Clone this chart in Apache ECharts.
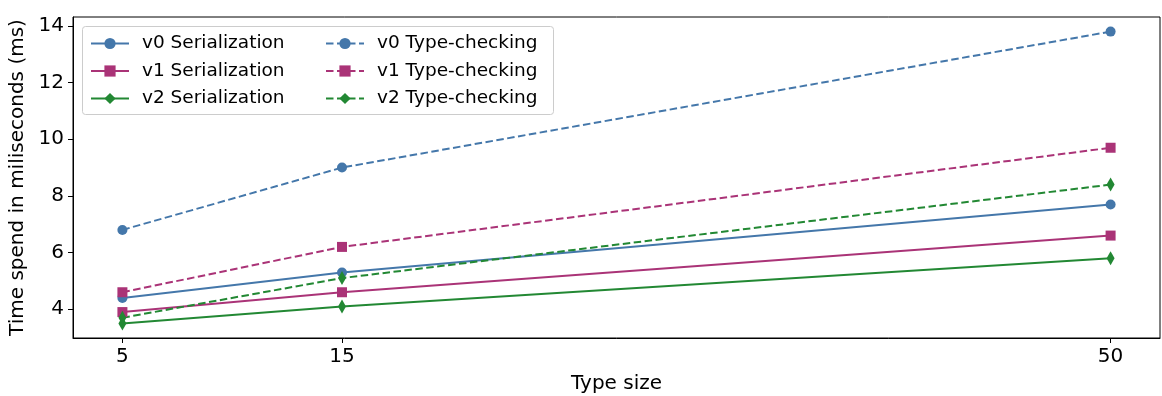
<!DOCTYPE html>
<html>
<head>
<meta charset="utf-8">
<script src="https://cdn.jsdelivr.net/npm/echarts@6/dist/echarts.min.js"></script>
<style>html,body{margin:0;padding:0;background:#fff}#c{width:1162px;height:396px}</style>
</head>
<body>
<div id="c"></div>
<script>
const typeSizes = [5, 15, 50];
const xTicks = [5, 15, 50];
const yTicks = [4, 6, 8, 10, 12, 14];
const v0Serialization = [4.4, 5.3, 7.7];
const v1Serialization = [3.9, 4.6, 6.6];
const v2Serialization = [3.5, 4.1, 5.8];
const v0TypeChecking = [6.8, 9.0, 13.8];
const v1TypeChecking = [4.6, 6.2, 9.7];
const v2TypeChecking = [3.7, 5.1, 8.4];

const BLUE = '#4477aa', MAG = '#aa3377', GREEN = '#228833';
const FONT = 'DejaVu Sans';

function pairs(vals) { return typeSizes.map((x, i) => [x, vals[i]]); }
function mk(name, vals, color, symbol, size, dashed) {
  return {
    name: name, type: 'line', data: pairs(vals),
    symbol: symbol, symbolSize: size, showSymbol: true,
    itemStyle: { color: color },
    lineStyle: { color: color, width: 2, type: dashed ? [7.5, 3.5] : 'solid' },
    emphasis: { disabled: true }, animation: false, z: 3
  };
}
const series = [
  mk('v0 Serialization', v0Serialization, BLUE, 'circle', 10, false),
  mk('v1 Serialization', v1Serialization, MAG, 'rect', 10, false),
  mk('v2 Serialization', v2Serialization, GREEN, 'diamond', [8, 14], false),
  mk('v0 Type-checking', v0TypeChecking, BLUE, 'circle', 10, true),
  mk('v1 Type-checking', v1TypeChecking, MAG, 'rect', 10, true),
  mk('v2 Type-checking', v2TypeChecking, GREEN, 'diamond', [8, 14], true)
];

const legendCommon = {
  orient: 'vertical', itemWidth: 38, itemHeight: 14, itemGap: 8.5, z: 20,
  textStyle: { fontFamily: FONT, fontSize: 18.5, color: '#000', padding: [0, 0, 0, 8] },
  selectedMode: false, padding: 0
};

const chart = echarts.init(document.getElementById('c'), null, { renderer: 'canvas' });
chart.setOption({
  animation: false,
  backgroundColor: '#fff',
  grid: { left: 73, right: 2, top: 17, bottom: 58, containLabel: false, outerBoundsMode: 'none',
          show: true, borderColor: '#000', borderWidth: 1, backgroundColor: 'transparent' },
  legend: [
    Object.assign({ left: 90, top: 34, data: series.slice(0, 3).map(s => s.name) }, legendCommon),
    Object.assign({ left: 325, top: 34, data: series.slice(3).map(s => s.name) }, legendCommon)
  ],
  graphic: [{
    type: 'rect', left: 82, top: 26, z: 5, silent: true,
    shape: { width: 471, height: 88, r: 3 },
    style: { fill: 'rgba(255,255,255,0.8)', stroke: '#cccccc', lineWidth: 1 }
  }],
  xAxis: {
    type: 'value', min: 2.75, max: 52.25,
    name: 'Type size', nameLocation: 'middle', nameGap: 36,
    nameTextStyle: { fontFamily: FONT, fontSize: 20, color: '#000' },
    axisLine: { show: true, lineStyle: { color: '#000', width: 1 } },
    axisTick: { show: true, length: 5, lineStyle: { color: '#000' }, customValues: xTicks },
    axisLabel: { fontFamily: FONT, fontSize: 20, color: '#000', margin: 9, customValues: xTicks },
    splitLine: { show: false }
  },
  yAxis: {
    type: 'value', min: 2.985, max: 14.315,
    name: 'Time spend in miliseconds (ms)', nameLocation: 'middle', nameGap: 45,
    nameTextStyle: { fontFamily: FONT, fontSize: 20, color: '#000' },
    axisLine: { show: true, lineStyle: { color: '#000', width: 1 } },
    axisTick: { show: true, length: 5, lineStyle: { color: '#000' }, customValues: yTicks },
    axisLabel: { fontFamily: FONT, fontSize: 20, color: '#000', margin: 9, customValues: yTicks },
    splitLine: { show: false }
  },
  series: series
});
</script>
</body>
</html>
